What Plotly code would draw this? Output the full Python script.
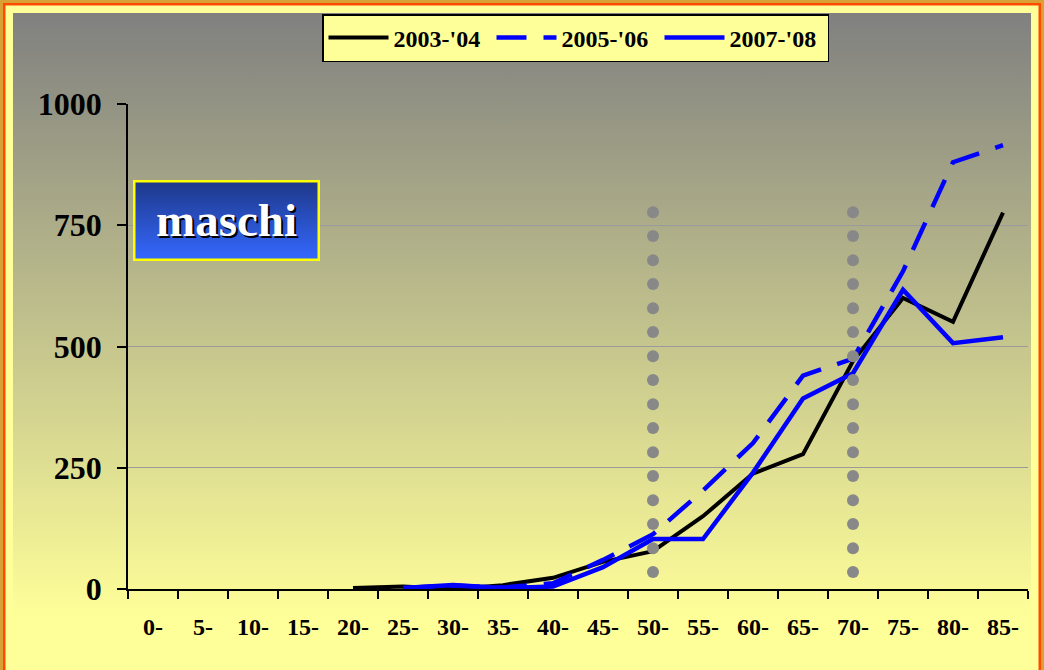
import base64
import plotly.graph_objects as go

# ---- data ----
categories = ["0-", "5-", "10-", "15-", "20-", "25-", "30-", "35-", "40-",
              "45-", "50-", "55-", "60-", "65-", "70-", "75-", "80-", "85-"]
s2003_04 = [None, None, None, None, 2, 5, 0, 8, 23, 56, 78, 150, 238, 278, 470, 600, 551, 776]
s2005_06 = [None, None, None, None, None, 2, 7, 3, 12, 60, 113, 203, 301, 440, 475, 655, 880, 915]
s2007_08 = [None, None, None, None, None, 2, 8, 2, 5, 45, 103, 103, 240, 393, 445, 617, 507, 519]
series_names = ["2003-'04", "2005-'06", "2007-'08"]
marker_categories = ["50-", "70-"]
marker_levels = [35, 84, 134, 183, 233, 282, 332, 381, 431, 480, 530, 579, 629, 678, 728, 777]
y_ticks = [0, 250, 500, 750, 1000]
panel_label = "maschi"

# ---- geometry ----
W, H = 1044, 670
ML, MR, MT, MB = 128, 16, 104, 81
PW, PH = W - ML - MR, H - MT - MB

FONT = "Liberation Serif, Times New Roman, serif"


def svg_uri(svg):
    return "data:image/svg+xml;base64," + base64.b64encode(svg.encode()).decode()


bg_svg = f"""<svg xmlns='http://www.w3.org/2000/svg' width='{W}' height='{H}' viewBox='0 0 {W} {H}' preserveAspectRatio='none'>
<defs><linearGradient id='g' gradientUnits='userSpaceOnUse' x1='0' y1='13' x2='0' y2='620'>
<stop offset='0' stop-color='#808080'/><stop offset='1' stop-color='#FFFF99'/></linearGradient></defs>
<rect x='0' y='0' width='{W}' height='{H+40}' fill='#D9A035'/>
<rect x='3' y='3' width='{W-6}' height='{H+40}' fill='#FF4A00'/>
<rect x='5.5' y='5.5' width='{W-11}' height='{H+40}' fill='#FFFF99'/>
<rect x='13' y='13' width='{W-26}' height='{H+40}' fill='url(#g)'/>
</svg>"""

box_px = (133, 180, 320, 261)  # left, top, right, bottom in page pixels
bw, bh = box_px[2] - box_px[0], box_px[3] - box_px[1]
box_svg = f"""<svg xmlns='http://www.w3.org/2000/svg' width='{bw}' height='{bh}' viewBox='0 0 {bw} {bh}' preserveAspectRatio='none'>
<defs><linearGradient id='b' x1='0' y1='0' x2='0' y2='1'>
<stop offset='0' stop-color='#1E3888'/><stop offset='1' stop-color='#3468FF'/></linearGradient></defs>
<rect x='1.25' y='1.25' width='{bw-2.5}' height='{bh-2.5}' fill='url(#b)' stroke='#FFFF00' stroke-width='2.5'/>
</svg>"""


def px_to_paper_x(px):
    return (px - ML) / PW


def px_to_paper_y(py):
    return 1 - (py - MT) / PH


fig = go.Figure()

fig.add_trace(go.Scatter(x=categories, y=s2003_04, name=series_names[0], mode="lines",
                         line=dict(color="black", width=4)))
fig.add_trace(go.Scatter(x=categories, y=s2005_06, name=series_names[1], mode="lines",
                         line=dict(color="#0000FF", width=4.5, dash="30px,17px")))
fig.add_trace(go.Scatter(x=categories, y=s2007_08, name=series_names[2], mode="lines",
                         line=dict(color="#0000FF", width=4.5)))

dot_x, dot_y = [], []
for c in marker_categories:
    for v in marker_levels:
        dot_x.append(c)
        dot_y.append(v)
fig.add_trace(go.Scatter(x=dot_x, y=dot_y, mode="markers", showlegend=False, hoverinfo="skip",
                         marker=dict(size=12, color="#888888", line=dict(width=0))))

fig.update_layout(
    width=W, height=H,
    margin=dict(l=ML, r=MR, t=MT, b=MB, pad=0),
    paper_bgcolor="#FFFF99",
    plot_bgcolor="rgba(0,0,0,0)",
    images=[
        dict(source=svg_uri(bg_svg), xref="paper", yref="paper",
             x=-ML / PW, y=1 + MT / PH, sizex=W / PW, sizey=H / PH,
             xanchor="left", yanchor="top", sizing="stretch", layer="below"),
        dict(source=svg_uri(box_svg), xref="paper", yref="paper",
             x=px_to_paper_x(box_px[0]), y=px_to_paper_y(box_px[1]),
             sizex=bw / PW, sizey=bh / PH,
             xanchor="left", yanchor="top", sizing="stretch", layer="above"),
    ],
    annotations=[
        dict(text=panel_label, xref="paper", yref="paper",
             x=px_to_paper_x((box_px[0] + box_px[2]) / 2), y=px_to_paper_y(220),
             xanchor="center", yanchor="middle", showarrow=False,
             font=dict(family=FONT, size=47, color="white", weight="bold",
                       shadow="2px 2px 0px #000000")),
    ],
    showlegend=True,
    legend=dict(orientation="h", x=px_to_paper_x(575.5), xanchor="center",
                y=px_to_paper_y(14), yanchor="top",
                bgcolor="#FFFF99", bordercolor="black", borderwidth=1.5,
                font=dict(family=FONT, size=24, color="black", weight="bold"),
                itemwidth=60, entrywidth=93, tracegroupgap=0),
    xaxis=dict(type="category", categoryorder="array", categoryarray=categories,
               range=[-0.5, len(categories) - 0.5], tickson="boundaries",
               ticks="outside", ticklen=8, tickwidth=1.5, tickcolor="black",
               showline=True, linecolor="black", linewidth=1.5,
               showgrid=False, zeroline=False, ticklabelstandoff=15,
               tickfont=dict(family=FONT, size=24, color="black", weight="bold")),
    yaxis=dict(range=[0, 1000], tickvals=y_ticks, ticktext=[str(t) for t in y_ticks],
               ticks="outside", ticklen=9, tickwidth=1.5, tickcolor="black",
               showline=True, linecolor="black", linewidth=1.5,
               showgrid=True, gridcolor="#9A9A9A", gridwidth=1, zeroline=False,
               ticklabelstandoff=9,
               tickfont=dict(family=FONT, size=32, color="black", weight="bold")),
)

fig.write_html("out.html", config={"displayModeBar": False},
               post_script="document.body.style.margin='0';document.body.style.padding='0';")
